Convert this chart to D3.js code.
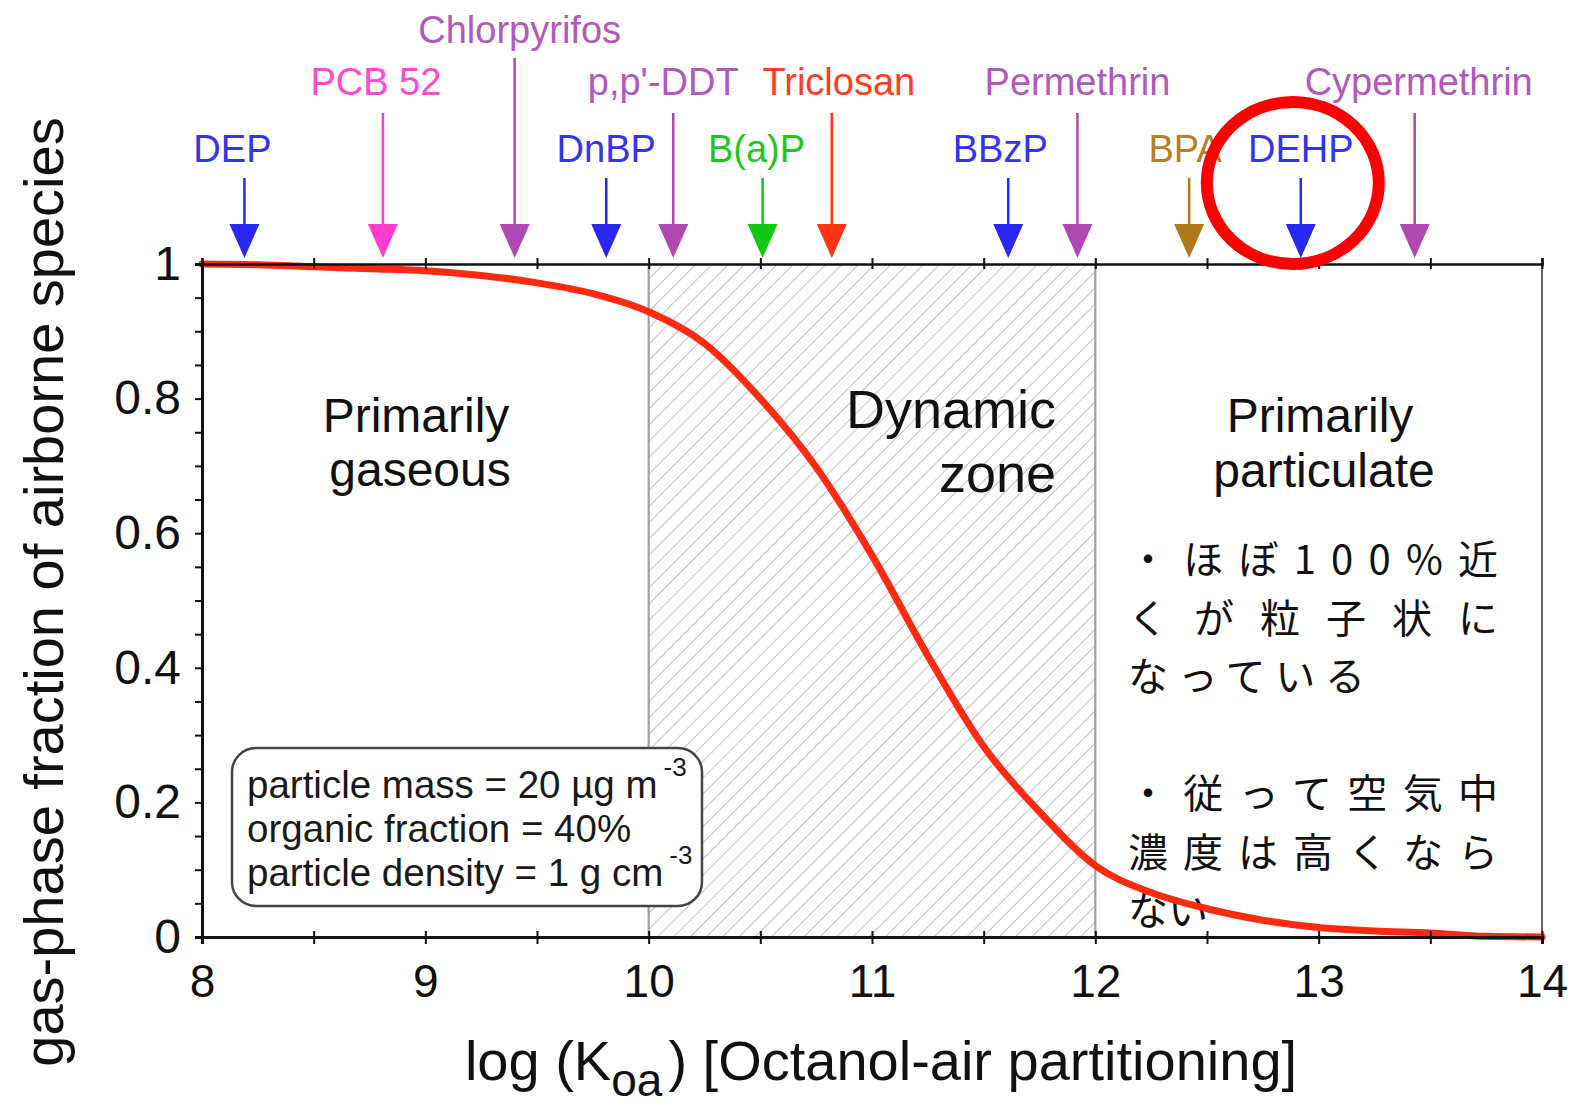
<!DOCTYPE html>
<html><head><meta charset="utf-8">
<script src="https://cdn.jsdelivr.net/npm/d3@7"></script>
<style>
html,body{margin:0;padding:0;background:#fff;}
svg{display:block;font-family:"Liberation Sans",Arial,sans-serif;}
</style></head>
<body>
<svg id="chart" width="1573" height="1106"></svg>
<script>
// ---- data ----
const curveX = [8.0,8.25,8.5,8.75,9.0,9.25,9.5,9.75,10.0,10.25,10.5,10.75,11.0,11.25,11.5,11.75,12.0,12.25,12.5,12.75,13.0,13.25,13.5,13.75,14.0];
const curveY = [1.000,0.999,0.996,0.993,0.990,0.983,0.972,0.956,0.929,0.882,0.800,0.698,0.567,0.418,0.283,0.186,0.106,0.066,0.042,0.025,0.014,0.009,0.006,0.001,0.000];
const compounds = ["DEP","PCB 52","Chlorpyrifos","DnBP","p,p'-DDT","B(a)P","Triclosan","BBzP","Permethrin","BPA","DEHP","Cypermethrin"];
const compoundKoa = [8.19,8.81,9.4,9.81,10.11,10.51,10.82,11.61,11.92,12.42,12.92,13.43];
const compoundRow = [2,1,0,2,1,2,1,2,1,2,2,1];
const compoundGroup = ["phthalate","pcb","pesticide","phthalate","pesticide","pah","triclosan","phthalate","pesticide","bpa","phthalate","pesticide"];
const xTicks = [8,8.5,9,9.5,10,10.5,11,11.5,12,12.5,13,13.5,14];
const yTicks = [0,0.05,0.1,0.15,0.2,0.25,0.3,0.35,0.4,0.45,0.5,0.55,0.6,0.65,0.7,0.75,0.8,0.85,0.9,0.95,1];
const yLabelTicks = [0,0.2,0.4,0.6,0.8,1];
const dynamicZone = [10,12];
const legendLines = [["particle mass = 20 µg m","-3"],["organic fraction = 40%",""],["particle density = 1 g cm","-3"]];
const jpLines = ["・ほぼ100%近","くが粒子状に","なっている","","・従って空気中","濃度は高くなら","ない"];

// ---- styles ----
const groupColor = {phthalate:"#2828f0",pcb:"#ff3ccc",pesticide:"#b048b4",pah:"#12c812",triclosan:"#ff3412",bpa:"#b07a1c"};
const textColor = {phthalate:"#3434ee",pcb:"#ff4ad0",pesticide:"#b258be",pah:"#1ec81e",triclosan:"#ff3c1e",bpa:"#b48028"};
const labelNudge = {"DEP":-12,"PCB 52":-7,"Chlorpyrifos":5,"p,p'-DDT":-10,"B(a)P":-6,"Triclosan":7,"BBzP":-8,"BPA":-4,"Cypermethrin":4};

const svg = d3.select("#chart");
const x = d3.scaleLinear().domain([8,14]).range([202,1542]);
const y = d3.scaleLinear().domain([0,1]).range([937,264]);

// hatch pattern
const defs = svg.append("defs");
const pat = defs.append("pattern").attr("id","hatch").attr("patternUnits","userSpaceOnUse")
  .attr("width",11.5).attr("height",10).attr("patternTransform","rotate(45)");
pat.append("line").attr("x1",0).attr("y1",-1).attr("x2",0).attr("y2",11)
  .attr("stroke","#bdbdbd").attr("stroke-width",1.9);

// dynamic zone
svg.append("rect").attr("x",x(dynamicZone[0])).attr("y",y(1))
  .attr("width",x(dynamicZone[1])-x(dynamicZone[0])).attr("height",y(0)-y(1))
  .attr("fill","url(#hatch)");
dynamicZone.forEach(v=>{
  svg.append("line").attr("x1",x(v)).attr("x2",x(v)).attr("y1",y(1)).attr("y2",y(0))
    .attr("stroke","#a0a0a0").attr("stroke-width",2.2);
});

// right border
svg.append("line").attr("x1",x(14)).attr("x2",x(14)).attr("y1",y(1)).attr("y2",y(0))
  .attr("stroke","#333").attr("stroke-width",1.5);

// region labels
const big = svg.append("g").attr("fill","#111");
big.append("text").attr("x",416).attr("y",432).attr("text-anchor","middle").attr("font-size",48).text("Primarily");
big.append("text").attr("x",420).attr("y",486).attr("text-anchor","middle").attr("font-size",48).text("gaseous");
big.append("text").attr("x",1056).attr("y",428).attr("text-anchor","end").attr("font-size",54).text("Dynamic");
big.append("text").attr("x",1056).attr("y",492).attr("text-anchor","end").attr("font-size",54).text("zone");
big.append("text").attr("x",1320).attr("y",432).attr("text-anchor","middle").attr("font-size",48).text("Primarily");
big.append("text").attr("x",1324).attr("y",487).attr("text-anchor","middle").attr("font-size",48).text("particulate");

// legend box
const lg = svg.append("g");
lg.append("rect").attr("x",232).attr("y",748).attr("width",470).attr("height",158).attr("rx",24)
  .attr("fill","#fff").attr("stroke","#444").attr("stroke-width",2.5);
legendLines.forEach((l,i)=>{
  const t = lg.append("text").attr("x",247).attr("y",798+i*44).attr("font-size",38.5).attr("fill","#1a1a1a");
  t.append("tspan").text(l[0]);
  if(l[1]) t.append("tspan").attr("font-size",26).attr("dy",-22).attr("dx",6).text(l[1]);
});

// Japanese text
const jpJustify = [370,370,237,0,370,370,0];
const jp = svg.append("g").attr("font-family","'Noto Sans CJK JP',sans-serif").attr("font-size",40).attr("fill","#111");
jpLines.forEach((l,i)=>{
  if(!l) return;
  const t = jp.append("text").attr("x",1128).attr("y",574+i*58.5).text(l);
  if(jpJustify[i]) t.attr("textLength",jpJustify[i]).attr("lengthAdjust","spacing");
});

// curve
const pts = curveX.map((v,i)=>[v,curveY[i]]);
svg.append("path").datum(pts)
  .attr("d", d3.line().x(d=>x(d[0])).y(d=>y(d[1])).curve(d3.curveMonotoneX))
  .attr("fill","none").attr("stroke","#ff2a10").attr("stroke-width",7).attr("stroke-linecap","round");

// axes
const axB = svg.append("g").attr("transform",`translate(0,${y(0)})`)
  .call(d3.axisBottom(x).tickValues(xTicks).tickSize(7).tickPadding(20)
    .tickFormat(d=>Number.isInteger(d)?d:""));
const axT = svg.append("g").attr("transform",`translate(0,${y(1)})`)
  .call(d3.axisTop(x).tickValues(xTicks).tickSize(6).tickFormat(""));
const axL = svg.append("g").attr("transform",`translate(${x(8)},0)`)
  .call(d3.axisLeft(y).tickValues(yTicks).tickSize(7).tickPadding(14)
    .tickFormat(d=>yLabelTicks.some(v=>Math.abs(v-d)<1e-9)? d3.format("~g")(d):""));
[axB,axT,axL].forEach(a=>{
  a.select(".domain").attr("stroke","#111").attr("stroke-width",3);
  a.selectAll(".tick line").attr("stroke","#111").attr("stroke-width",2);
  a.selectAll("text").attr("fill","#111").attr("font-family","'Liberation Sans',Arial,sans-serif");
});
axB.selectAll("text").attr("font-size",46);
axL.selectAll("text").attr("font-size",48);
axB.selectAll(".tick line").attr("y1",-6);
axT.selectAll(".tick line").attr("y1",5);
axT.select(".domain").attr("stroke-width",2.5);

// axis titles
svg.append("text").attr("transform","translate(63,592) rotate(-90)").attr("text-anchor","middle")
  .attr("font-size",56).attr("fill","#111").text("gas-phase fraction of airborne species");
const xt = svg.append("text").attr("x",881).attr("y",1080).attr("text-anchor","middle").attr("font-size",56).attr("fill","#111");
xt.append("tspan").text("log (K");
xt.append("tspan").attr("dy",16).attr("font-size",46).text("oa");
xt.append("tspan").attr("dy",-16).attr("dx",6).text(") [Octanol-air partitioning]");

// arrows
const rowTextY = [43,95,162];
const rowStemTop = [58,113,178];
const tipY = y(1) - 6;
compounds.forEach((name,i)=>{
  const cx = x(compoundKoa[i]);
  const g = compoundGroup[i];
  svg.append("line").attr("x1",cx).attr("x2",cx).attr("y1",rowStemTop[compoundRow[i]]).attr("y2",tipY-30)
    .attr("stroke",groupColor[g]).attr("stroke-width",2.5);
  svg.append("path").attr("d",`M${cx-15},${tipY-34}L${cx+15},${tipY-34}L${cx},${tipY}Z`).attr("fill",groupColor[g]);
  svg.append("text").attr("x",cx+(labelNudge[name]||0)).attr("y",rowTextY[compoundRow[i]]).attr("text-anchor","middle")
    .attr("font-size",38).attr("fill",textColor[g]).text(name);
});

// red highlight circle around DEHP
svg.append("ellipse").attr("cx",x(compoundKoa[10])-8).attr("cy",183).attr("rx",86).attr("ry",81)
  .attr("fill","none").attr("stroke","#ff0000").attr("stroke-width",12);
</script>
</body></html>
